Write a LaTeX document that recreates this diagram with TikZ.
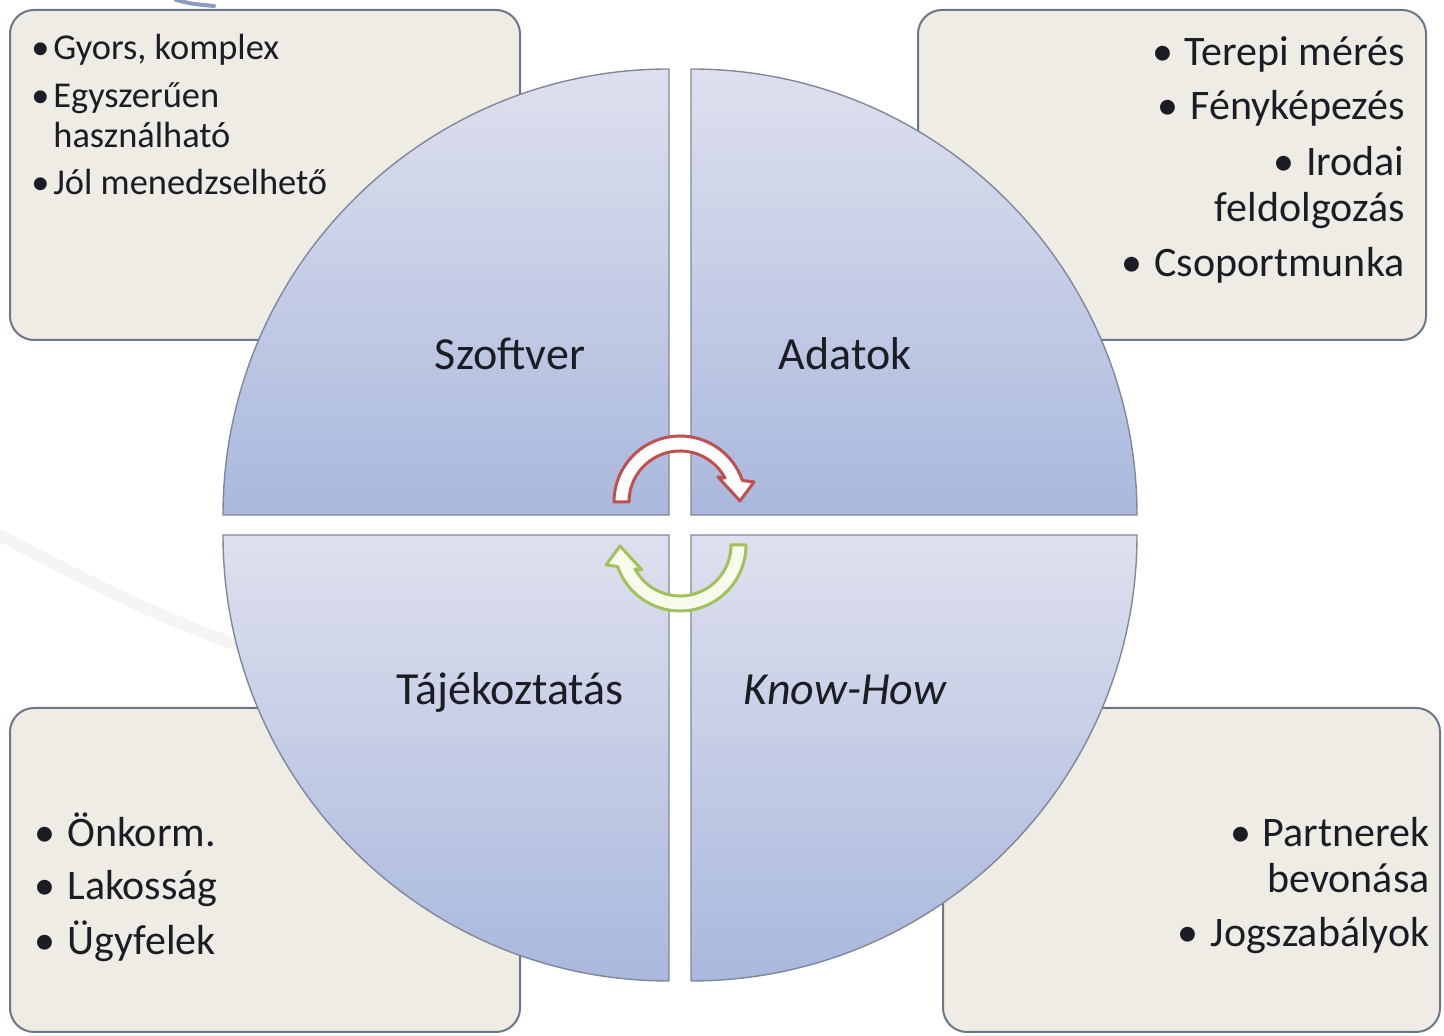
\documentclass[tikz,border=0pt]{standalone}
\usepackage{fontspec}
\setmainfont{Carlito}
\usepackage{xcolor}
\usepackage{tikz}
\usetikzlibrary{positioning}

\definecolor{boxfill}{HTML}{EFECE6}
\definecolor{boxline}{HTML}{6B7788}
\definecolor{qtop}{HTML}{DFE0EE}
\definecolor{qbot}{HTML}{A9B8DD}
\definecolor{qline}{HTML}{7F8899}
\definecolor{redline}{HTML}{C0504D}
\definecolor{greenline}{HTML}{A2C05C}
\definecolor{greenfill}{HTML}{F8FBEC}
\definecolor{ink}{HTML}{1C1C24}
\definecolor{swooshblue}{HTML}{8C9CBC}

% bullets: fixed box on the left, plain gap on the right-aligned lines
\newcommand{\lbul}[1]{\makebox[#1][l]{\textbullet}}
\newcommand{\rbul}{\textbullet\hspace{6pt}}

\tikzset{
    infobox/.style={draw=boxline, line width=1pt, fill=boxfill, rounded corners=12pt},
    quarter/.style={draw=qline, line width=0.7pt, top color=qtop, bottom color=qbot},
    biglabel/.style={font=\fontsize{23}{28}\selectfont, text=ink, inner sep=0pt, anchor=base},
    itemtxt/.style={font=\fontsize{21}{25}\selectfont, text=ink, inner sep=0pt},
    smalltxt/.style={font=\fontsize{18.2}{22}\selectfont, text=ink, inner sep=0pt, anchor=base west},
    swoosh/.style={draw=black!4, line width=6pt, line cap=round},
    cyclearrow/.pic={
        \path[pic actions] (-66,0) arc[start angle=180, end angle=19, radius=66]
            -- (74,20) -- (60,1) -- (38,25) -- (28:51)
            arc[start angle=28, end angle=180, radius=51] -- cycle;
    }
}

\begin{document}
\begin{tikzpicture}[x=0.5pt, y=0.5pt]
                \useasboundingbox (0,0) rectangle (1444,1036);

                % background
                \draw[swoosh] (0,501) .. controls (80,458) and (160,418) .. (240,390);
                \draw[draw=swooshblue, line width=2pt, line cap=round] (176,1036) .. controls (192,1032) .. (214,1030);

                % corner boxes
                \draw[infobox] (10,696) rectangle (520,1026);
                \draw[infobox] (918,696) rectangle (1426,1026);
                \draw[infobox] (10,4) rectangle (520,328);
                \draw[infobox] (943,4) rectangle (1440,328);

                % the four quarters
                \draw[quarter] (669,521) -- (223,521) arc[start angle=180, end angle=90, radius=446] -- cycle;
                \draw[quarter] (691,521) -- (1137,521) arc[start angle=0, end angle=90, radius=446] -- cycle;
                \draw[quarter] (669,501) -- (223,501) arc[start angle=180, end angle=270, radius=446] -- cycle;
                \draw[quarter] (691,501) -- (1137,501) arc[start angle=0, end angle=-90, radius=446] -- cycle;

                \node[biglabel] (szoftver) at (510,666) {Szoftver};
                \node[biglabel] (adatok) at (845,666) {Adatok};
                \node[biglabel] (tajek) at (510,331) {Tájékoztatás};
                \node[biglabel] (knowhow) at (845,331) {\itshape Know-How};

                % cycle arrows
                \pic[draw=redline, fill=white, line width=1.5pt, line join=round] at (680,534) {cyclearrow};
                \pic[draw=greenline, fill=greenfill, line width=1.5pt, line join=round, rotate=180] at (680,491) {cyclearrow};

                % top left
                \node[smalltxt] (sz1) at (31,976) {\lbul{11pt}Gyors, komplex};
                \node[smalltxt] (sz2) at (31,928) {\lbul{11pt}Egyszerűen};
                \node[smalltxt] (sz2b) at (53,888) {használható};
                \node[smalltxt] (sz3) at (31,841) {\lbul{11pt}Jól menedzselhető};

                % top right
                \node[itemtxt, anchor=base east] (ad1) at (1405,970) {\rbul Terepi mérés};
                \node[itemtxt, anchor=base east] (ad2) at (1405,916) {\rbul Fényképezés};
                \node[itemtxt, anchor=base east] (ad3) at (1405,860) {\rbul Irodai};
                \node[itemtxt, anchor=base east] (ad3b) at (1405,814) {feldolgozás};
                \node[itemtxt, anchor=base east] (ad4) at (1405,759) {\rbul Csoportmunka};

                % bottom left
                \node[itemtxt, anchor=base west] (ta1) at (34,189) {\lbul{16.5pt}Önkorm.};
                \node[itemtxt, anchor=base west] (ta2) at (34,136) {\lbul{16.5pt}Lakosság};
                \node[itemtxt, anchor=base west] (ta3) at (34,81) {\lbul{16.5pt}Ügyfelek};

                % bottom right
                \node[itemtxt, anchor=base east] (kh1) at (1430,189) {\rbul Partnerek};
                \node[itemtxt, anchor=base east] (kh1b) at (1430,143) {bevonása};
                \node[itemtxt, anchor=base east] (kh2) at (1430,89) {\rbul Jogszabályok};

            \end{tikzpicture}
\end{document}
